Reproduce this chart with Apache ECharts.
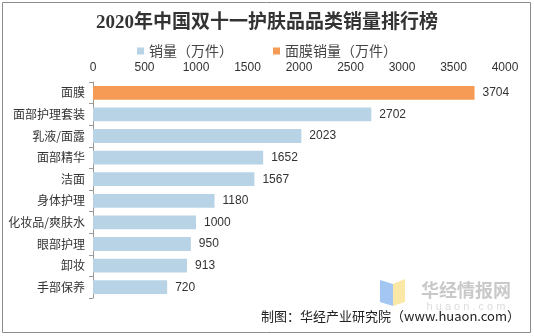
<!DOCTYPE html>
<html><head><meta charset="utf-8">
<script src="https://cdn.jsdelivr.net/npm/echarts@6/dist/echarts.min.js"></script>
<style>html,body{margin:0;padding:0;background:#fff}#c{width:534px;height:336px}</style>
</head><body><div id="c"></div>
<script>
const categories = ['面膜','面部护理套装','乳液/面露','面部精华','洁面','身体护理','化妆品/爽肤水','眼部护理','卸妆','手部保养'];
const salesValues = ['-',2702,2023,1652,1567,1180,1000,950,913,720];
const maskValues = [3704,'-','-','-','-','-','-','-','-','-'];
const xTicks = [0,500,1000,1500,2000,2500,3000,3500,4000];
const seriesNames = ['销量（万件）','面膜销量（万件）'];

const chart = echarts.init(document.getElementById('c'), null, {renderer:'canvas'});
const sans = '"Noto Sans CJK SC", "Liberation Sans", sans-serif';
chart.setOption({
  animation:false,
  backgroundColor:'#fff',
  title:{text:'2020年中国双十一护肤品品类销量排行榜',left:'center',top:9,
    textStyle:{fontSize:19,fontWeight:'bold',color:'#333',fontFamily:'"Liberation Serif", "Noto Sans CJK SC", serif'}},
  legend:{data:seriesNames,top:39,left:'center',itemWidth:7,itemHeight:7,itemGap:40,icon:'rect',
    textStyle:{fontSize:14,color:'#444',fontFamily:sans}},
  grid:{left:93,right:29,top:82,bottom:38,containLabel:false},
  xAxis:{type:'value',position:'top',min:xTicks[0],max:xTicks[xTicks.length-1],interval:500,
    axisLine:{show:false},axisTick:{show:false},splitLine:{show:false},
    axisLabel:{fontSize:12,color:'#333',margin:8,fontFamily:'"Liberation Sans", sans-serif',formatter:v=>String(v)}},
  yAxis:{type:'category',data:categories,inverse:true,
    axisLine:{lineStyle:{color:'#999'}},axisTick:{show:true,length:4,lineStyle:{color:'#999'}},
    axisLabel:{fontSize:12,color:'#333',margin:8,fontFamily:sans}},
  series:[
    {name:seriesNames[0],type:'bar',stack:'a',data:salesValues,barWidth:'64%',
      itemStyle:{color:'#B8D3E6'},
      label:{show:true,position:'right',distance:8,fontSize:12,color:'#333',fontFamily:'"Liberation Sans", sans-serif'}},
    {name:seriesNames[1],type:'bar',stack:'a',data:maskValues,barWidth:'64%',
      itemStyle:{color:'#F59B55'},
      label:{show:true,position:'right',distance:8,fontSize:12,color:'#333',fontFamily:'"Liberation Sans", sans-serif'}}
  ],
  graphic:[
    {type:'rect',shape:{x:2.5,y:2.5,width:528,height:330},style:{fill:null,stroke:'#8c8c8c',lineWidth:1},silent:true,z:-1},
    {type:'polygon',shape:{points:[[380,280],[393,284],[393,306],[380,302]]},style:{fill:'#A3C6F2'},silent:true},
    {type:'polygon',shape:{points:[[393,284],[405,279],[405,302],[393,306]]},style:{fill:'#FBE7A6'},silent:true},
    {type:'text',style:{text:'华经情报网',x:466,y:290,align:'center',verticalAlign:'middle',font:'bold 18px "Noto Sans CJK SC"',fill:'#c9c9c9'},silent:true},
    {type:'text',style:{text:'h u a o n . c o m',x:466,y:307,align:'center',verticalAlign:'middle',font:'11px "Liberation Sans"',fill:'#dcdcdc'},silent:true},
    {type:'text',style:{text:'制图：华经产业研究院（www.huaon.com）',x:520,y:316,align:'right',verticalAlign:'middle',font:'13px "Noto Sans CJK SC"',fill:'#222'},silent:true}
  ]
});
</script></body></html>
